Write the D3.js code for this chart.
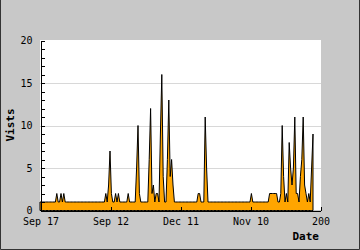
<!DOCTYPE html>
<html>
<head>
<meta charset="utf-8">
<script src="https://cdn.jsdelivr.net/npm/d3@7"></script>
<style>
    html, body { margin: 0; padding: 0; background: #c8c8c8; }
    svg { display: block; }
    .axis text { font-family: "DejaVu Sans Mono", monospace; font-size: 10px; fill: #000; }
    .axis path, .axis line { stroke: #000; shape-rendering: crispEdges; }
    .title { font-family: "DejaVu Sans Mono", monospace; font-size: 11px; font-weight: bold; fill: #000; }
</style>
</head>
<body>
<div id="chart"></div>
<script>
// 刻度標籤
const xTickValues = [0, 50, 100, 150, 200];
const xTickLabels = ['Sep 17', 'Sep 12', 'Dec 11', 'Nov 10', '200'];
const yGridValues = [5, 10, 15];

// 每日造訪數
const visits = [
    1, 1, 1, 1, 1, 1, 1, 1, 1, 1,
    1, 1, 2, 1, 1, 2, 1, 2, 1, 1,
    1, 1, 1, 1, 1, 1, 1, 1, 1, 1,
    1, 1, 1, 1, 1, 1, 1, 1, 1, 1,
    1, 1, 1, 1, 1, 1, 1, 2, 1, 3,
    7, 2, 1, 1, 2, 1, 2, 1, 1, 1,
    1, 1, 1, 2, 1, 1, 1, 1, 1, 5,
    10, 2, 1, 1, 1, 1, 1, 1, 6, 12,
    2, 3, 1, 2, 2, 1, 9, 16, 4, 1,
    1, 6, 13, 4, 6, 3, 1, 1, 1, 1,
    1, 1, 1, 1, 1, 1, 1, 1, 1, 1,
    1, 1, 1, 2, 2, 1, 1, 1, 11, 5,
    1, 1, 1, 1, 1, 1, 1, 1, 1, 1,
    1, 1, 1, 1, 1, 1, 1, 1, 1, 1,
    1, 1, 1, 1, 1, 1, 1, 1, 1, 1,
    1, 2, 1, 1, 1, 1, 1, 1, 1, 1,
    1, 1, 1, 1, 2, 2, 2, 2, 2, 2,
    1, 1, 2, 10, 4, 1, 2, 1, 8, 5,
    3, 5, 11, 2, 2, 1, 4, 6, 11, 3,
    2, 1, 2, 1, 5, 9
];

const width = 360;
const height = 250;
const plot = { left: 40, right: 320, top: 40, bottom: 210 };

const svg = d3.select('#chart')
    .append('svg')
    .attr('width', width)
    .attr('height', height);

// 外框（左、右、下）
svg.append('path')
    .attr('d', `M0.5,0 V${height - 0.5} H${width - 0.5} V0`)
    .attr('fill', 'none')
    .attr('stroke', '#333');

// 繪圖區背景
svg.append('rect')
    .attr('x', plot.left)
    .attr('y', plot.top)
    .attr('width', plot.right - plot.left + 1)
    .attr('height', plot.bottom - plot.top)
    .attr('fill', '#fff');

const x = d3.scaleLinear()
    .domain([0, 200])
    .range([plot.left, plot.right]);

const y = d3.scaleLinear()
    .domain([0, 20])
    .range([plot.bottom + 0.5, plot.top + 0.5]);

// 格線
svg.append('g')
    .selectAll('line')
    .data(yGridValues)
    .enter()
    .append('line')
    .attr('x1', plot.left)
    .attr('x2', plot.right + 1)
    .attr('y1', d => Math.round(y(d)) + 0.5)
    .attr('y2', d => Math.round(y(d)) + 0.5)
    .attr('stroke', '#d8d8d8');

// 面積圖
const area = d3.area()
    .x((d, i) => x(i))
    .y0(y(0))
    .y1(d => y(d));

svg.append('path')
    .datum(visits)
    .attr('d', area)
    .attr('fill', '#ffa500')
    .attr('stroke', '#000')
    .attr('stroke-width', 1)
    .attr('stroke-linejoin', 'miter');

// X 軸
svg.append('g')
    .attr('class', 'axis')
    .attr('transform', `translate(0.5,${plot.bottom + 0.5})`)
    .call(d3.axisBottom(x)
        .tickValues(xTickValues)
        .tickFormat((d, i) => xTickLabels[i])
        .tickSizeInner(-4)
        .tickSizeOuter(0)
        .tickPadding(7));

// Y 軸
svg.append('g')
    .attr('class', 'axis')
    .attr('transform', `translate(${plot.left + 0.5},0)`)
    .call(d3.axisLeft(y)
        .tickValues(d3.range(0, 21))
        .tickFormat(d => d % 5 === 0 ? d : '')
        .tickSizeInner(-4)
        .tickSizeOuter(0)
        .tickPadding(8));

// 軸標題
svg.append('text')
    .attr('class', 'title')
    .attr('x', 319)
    .attr('y', 240)
    .attr('text-anchor', 'end')
    .text('Date');

svg.append('text')
    .attr('class', 'title')
    .attr('transform', 'translate(14,125) rotate(-90)')
    .attr('text-anchor', 'middle')
    .text('Vists');
</script>
</body>
</html>
